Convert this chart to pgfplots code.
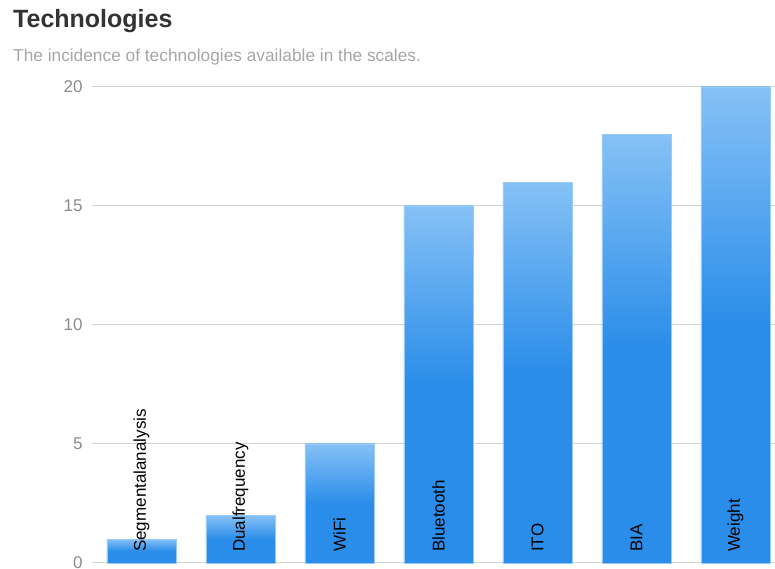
\documentclass[border=0pt]{standalone}
\usepackage{pgfplots}
\pgfplotsset{compat=1.18}
\usepackage{fontspec}
\setmainfont{Liberation Sans}
\definecolor{barbot}{HTML}{2A8DE9}
\definecolor{bartop}{HTML}{86C1F6}
\definecolor{baredge}{HTML}{9ACBF5}
\definecolor{gridc}{HTML}{D2D2D2}
\definecolor{tickc}{HTML}{8C8C8C}
\definecolor{subc}{HTML}{A6A6A6}
\definecolor{titc}{HTML}{333333}
\begin{document}
\begin{tikzpicture}[x=1pt,y=1pt]
\useasboundingbox (-92,-6) rectangle (683,563);
\begin{axis}[
  at={(0,0)}, anchor=south west,
  scale only axis, width=683pt, height=476pt,
  xmin=-0.5, xmax=6.4, ymin=0, ymax=20,
  axis line style={draw=none},
  xtick=\empty,
  ytick={0,5,10,15,20},
  major tick length=0pt,
  ymajorgrids,
  grid style={gridc, line width=1pt},
  /pgf/number format/assume math mode=true,
  yticklabel style={tickc, font=\fontsize{17}{17}\selectfont, xshift=-6pt},
  clip=false,
  barstyle/.style={ybar, bar width=69pt, draw=baredge, line width=0.6pt,
    shading=axis, top color=bartop, bottom color=barbot, middle color=barbot},
]
\addplot[barstyle] coordinates {(0,1)};
\addplot[barstyle] coordinates {(1,2)};
\addplot[barstyle] coordinates {(2,5)};
\addplot[barstyle] coordinates {(3,15)};
\addplot[barstyle] coordinates {(4,16)};
\addplot[barstyle] coordinates {(5,18)};
\addplot[barstyle] coordinates {(6,20)};
\addplot[only marks, mark=none, nodes near coords, point meta=explicit symbolic,
  nodes near coords style={rotate=90, anchor=west, inner xsep=11pt, black,
    font=\fontsize{17}{17}\selectfont}]
  coordinates {(0,0) [Segmentalanalysis] (1,0) [Dualfrequency] (2,0) [WiFi]
    (3,0) [Bluetooth] (4,0) [ITO] (5,0) [BIA] (6,0) [Weight]};
\end{axis}
\node[anchor=base west, inner sep=0pt, text=titc, font=\bfseries\fontsize{25}{25}\selectfont] at (-79,535) {Technologies};
\node[anchor=base west, inner sep=0pt, text=subc, font=\fontsize{17.3}{17.3}\selectfont] at (-79,501) {The incidence of technologies available in the scales.};
\end{tikzpicture}
\end{document}
